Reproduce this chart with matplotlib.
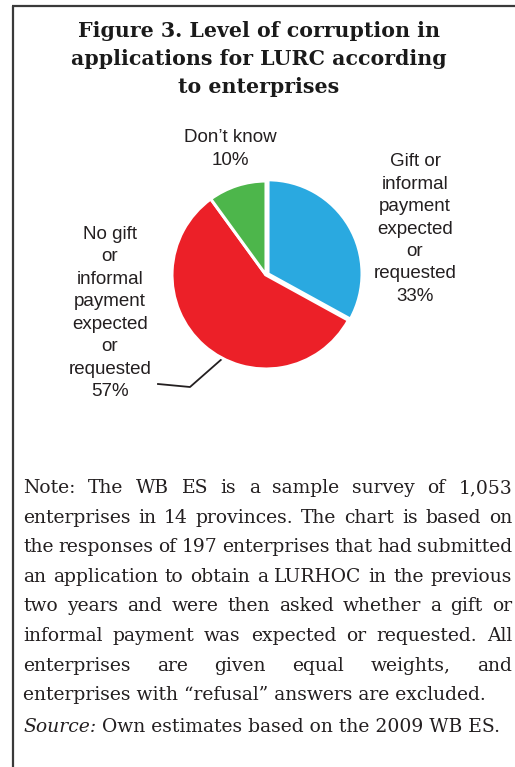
import matplotlib
matplotlib.use("Agg")
import matplotlib.pyplot as plt

# Data
categories = ["Gift or\ninformal\npayment\nexpected\nor\nrequested",
              "No gift\nor\ninformal\npayment\nexpected\nor\nrequested",
              "Don\u2019t know"]
shares = [33, 57, 10]
colors = ["#2AA9E0", "#EC2028", "#4DB64B"]

title = "Figure 3. Level of corruption in\napplications for LURC according\nto enterprises"
note_lines = [
    "Note: The WB ES is a sample survey of 1,053",
    "enterprises in 14 provinces. The chart is based on",
    "the responses of 197 enterprises that had submitted",
    "an application to obtain a LURHOC in the previous",
    "two years and were then asked whether a gift or",
    "informal payment was expected or requested. All",
    "enterprises are given equal weights, and",
    "enterprises with \u201crefusal\u201d answers are excluded.",
]
source_label = "Source:"
source_text = " Own estimates based on the 2009 WB ES."

W, H = 515, 767
fig = plt.figure(figsize=(W / 100, H / 100), dpi=100)

# pixel-coordinate background axes
bg = fig.add_axes([0, 0, 1, 1])
bg.set_xlim(0, W)
bg.set_ylim(H, 0)
bg.axis("off")

# frame (top and left rules)
bg.plot([12, W], [6, 6], color="#3a3a3a", lw=1.6, solid_capstyle="butt")
bg.plot([12.5, 12.5], [6, H], color="#3a3a3a", lw=1.6, solid_capstyle="butt")

# title
bg.text(259, 21, title, ha="center", va="top", fontsize=14.8,
        fontweight="bold", family="DejaVu Serif", linespacing=1.5,
        color="#1a1a1a")

# pie
cx, cy, r = 266, 275, 94
pad = 1.03
pax = fig.add_axes([(cx - r * pad) / W, 1 - (cy + r * pad) / H,
                    2 * r * pad / W, 2 * r * pad / H])
pax.pie(shares, colors=colors, startangle=90, counterclock=False,
        explode=[0.025, 0, 0],
        wedgeprops=dict(edgecolor="white", linewidth=2.2))
pax.set_xlim(-pad, pad)
pax.set_ylim(-pad, pad)
pax.set_aspect("equal")
pax.axis("off")

lab_kw = dict(ha="center", va="center", fontsize=13.5,
              family="Liberation Sans", color="#231f20", linespacing=1.42)
bg.text(415, 229, f"{categories[0]}\n{shares[0]}%", **lab_kw)
bg.text(110, 313, f"{categories[1]}\n{shares[1]}%", **lab_kw)
bg.text(230, 149, f"{categories[2]}\n{shares[2]}%", **lab_kw)

# leader line for the red slice
bg.plot([158, 190, 223], [384, 387, 358], color="#231f20", lw=1.3)

# justified note text
renderer = fig.canvas.get_renderer()
left, right = 23, 512
note_kw = dict(fontsize=13.5, family="DejaVu Serif", color="#231f20",
               va="baseline", ha="left")
y0, dy = 493, 29.6
for i, line in enumerate(note_lines):
    y = y0 + i * dy
    words = line.split(" ")
    if i == len(note_lines) - 1:
        bg.text(left, y, line, **note_kw)
        continue
    texts = [bg.text(0, y, w, **note_kw) for w in words]
    widths = [t.get_window_extent(renderer).width for t in texts]
    gap = (right - left - sum(widths)) / (len(words) - 1)
    x = left
    for t, w in zip(texts, widths):
        t.set_x(x)
        x += w + gap

ys = y0 + len(note_lines) * dy + 2
st = bg.text(left, ys, source_label, style="italic", **note_kw)
sw = st.get_window_extent(renderer).width
bg.text(left + sw, ys, source_text, **note_kw)

fig.savefig("out.png", dpi=100)
